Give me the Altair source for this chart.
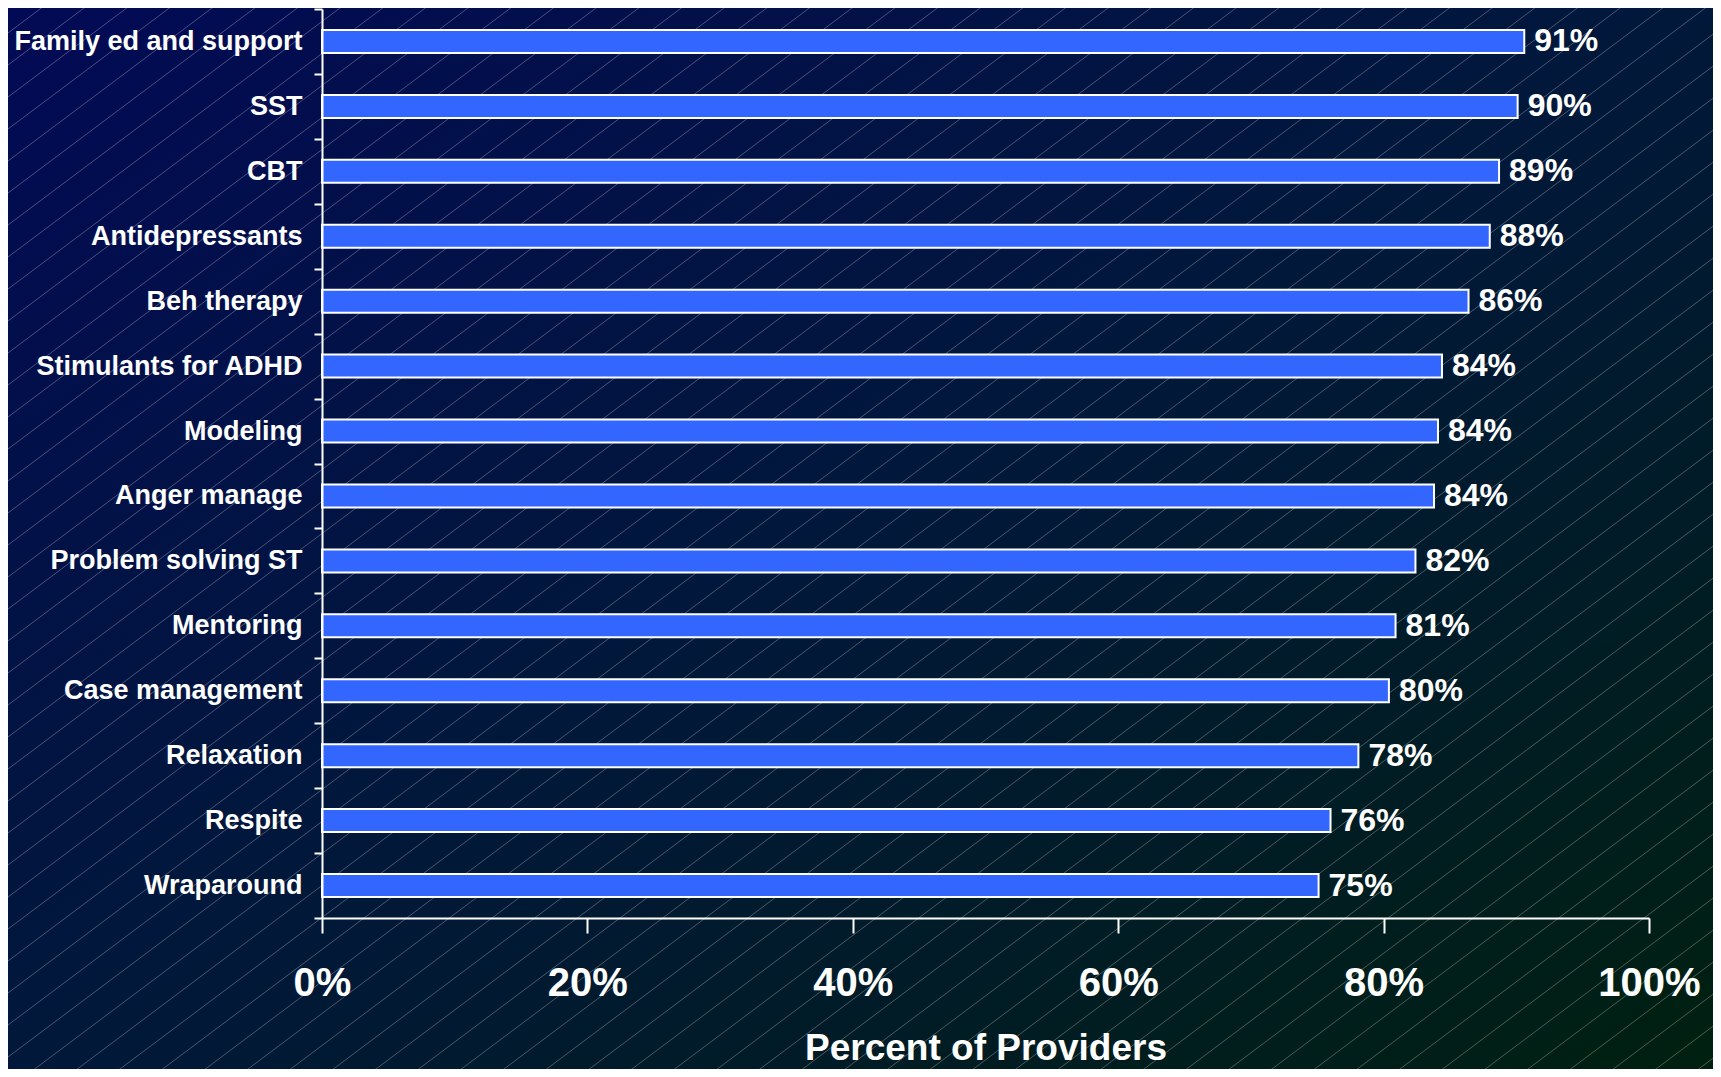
import altair as alt
import pandas as pd

categories = ["Family ed and support", "SST", "CBT", "Antidepressants", "Beh therapy",
              "Stimulants for ADHD", "Modeling", "Anger manage", "Problem solving ST",
              "Mentoring", "Case management", "Relaxation", "Respite", "Wraparound"]
values = [90.6, 90.1, 88.7, 88.0, 86.4, 84.4, 84.1, 83.8, 82.4, 80.9, 80.4, 78.1, 76.0, 75.1]
value_labels = ["91%", "90%", "89%", "88%", "86%", "84%", "84%", "84%", "82%", "81%",
                "80%", "78%", "76%", "75%"]
x_ticks = [0, 20, 40, 60, 80, 100]
x_title = "Percent of Providers"

df = pd.DataFrame({"category": categories, "value": values, "label": value_labels})

W, H = 1327, 909
PL, PT, PR, PB = 314, 1, 64, 151
FONT = "Liberation Sans"

bg = alt.Chart(pd.DataFrame({"k": [0]})).mark_rect(
    color=alt.Gradient(
        gradient="linear",
        stops=[alt.GradientStop(color="#020A55", offset=0),
               alt.GradientStop(color="#01183A", offset=0.5),
               alt.GradientStop(color="#002010", offset=1)],
        x1=0, y1=0, x2=1, y2=1),
).encode(x=alt.value(-PL), x2=alt.value(W + PR), y=alt.value(-PT), y2=alt.value(H + PB))

# decorative diagonal hatching of the slide background
hatch = alt.Chart(alt.sequence(-8, 66, as_="i")).transform_calculate(
    hx1=f"{-PL}",
    hy1=f"12.5 + 32*datum.i + {0.75 * PL}",
    hx2=f"{W + PR}",
    hy2=f"12.5 + 32*datum.i - {0.75 * (W + PR)}",
).mark_rule(color="white", opacity=0.28, strokeWidth=1).encode(
    x=alt.X("hx1:Q", scale=None, axis=None),
    x2="hx2:Q",
    y=alt.Y("hy1:Q", scale=None, axis=None),
    y2="hy2:Q",
)

x_enc = alt.X(
    "value:Q",
    scale=alt.Scale(domain=[0, 100], nice=False, zero=True),
    axis=alt.Axis(
        values=x_ticks, labelExpr="datum.value + '%'", title=x_title, grid=False,
        domainColor="white", domainWidth=2, tickColor="white", tickWidth=2, tickSize=15,
        labelColor="white", labelFont=FONT, labelFontSize=40, labelFontWeight="bold",
        labelPadding=30, labelFlush=False, labelOverlap=False,
        titleColor="white", titleFont=FONT, titleFontSize=37, titleFontWeight="bold",
        titleY=112, titleBaseline="top", zindex=1,
    ),
)
y_enc = alt.Y(
    "category:N",
    sort=categories,
    scale=alt.Scale(paddingInner=0, paddingOuter=0),
    axis=alt.Axis(
        title=None, tickBand="extent", grid=False,
        domainColor="white", domainWidth=2, tickColor="white", tickWidth=2, tickSize=8,
        labelColor="white", labelFont=FONT, labelFontSize=27, labelFontWeight="bold",
        labelPadding=12, labelLimit=500, zindex=1,
    ),
)

bars = alt.Chart(df).mark_bar(
    size=23, color="#3366FF", stroke="white", strokeWidth=2
).encode(x=x_enc, y=y_enc)

texts = alt.Chart(df).mark_text(
    align="left", baseline="middle", dx=10, color="white",
    font=FONT, fontSize=32, fontWeight="bold"
).encode(x=alt.X("value:Q"), y=alt.Y("category:N", sort=categories), text="label:N")

chart = alt.layer(bg, hatch, alt.layer(bars, texts)).resolve_scale(
    x="independent", y="independent"
).properties(
    width=W, height=H,
    padding={"left": PL, "top": PT, "right": PR, "bottom": PB},
    autosize=alt.AutoSizeParams(type="none"),
    background="#01183A",
).configure_view(stroke=None)

chart.save("out.html", embed_options={"renderer": "svg", "actions": False})
